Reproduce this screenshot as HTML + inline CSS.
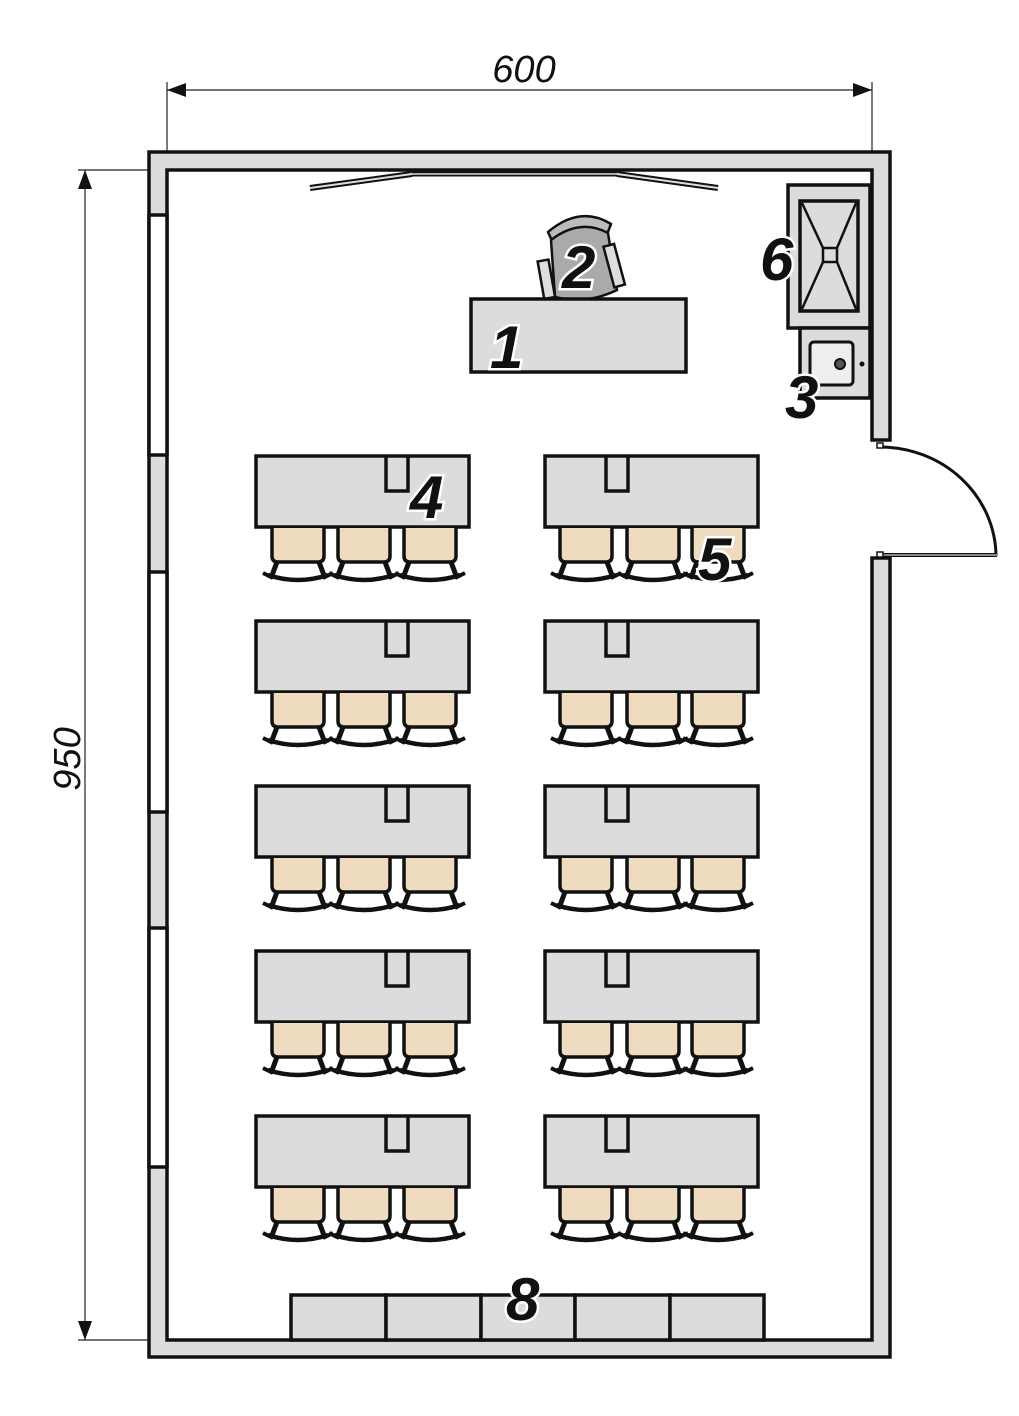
<!DOCTYPE html>
<html><head><meta charset="utf-8"><style>
html,body{margin:0;padding:0;background:#fff;}
svg{display:block;}
.n{font-family:"Liberation Sans",sans-serif;font-weight:bold;font-style:italic;font-size:60px;fill:#111;stroke:#fff;stroke-width:5;paint-order:stroke;}
.d{font-family:"Liberation Sans",sans-serif;font-style:italic;font-size:38px;fill:#111;}
</style></head><body>
<svg width="1019" height="1416" viewBox="0 0 1019 1416" xmlns="http://www.w3.org/2000/svg">
<defs>
<g id="ch">
<path d="M1,0 V28 Q1,34 7,34 H47 Q53,34 53,28 V0" fill="#efdcc0" stroke="#111" stroke-width="3.5"/>
<path d="M6,34 L0,50 M48,34 L54,50" stroke="#111" stroke-width="5" fill="none"/>
<path d="M-3,47 Q27,57 57,47" stroke="#111" stroke-width="4.5" fill="none"/>
<path d="M-8,45 L2,50 M52,50 L62,45" stroke="#111" stroke-width="4" fill="none"/>
</g>
<g id="rowL">
<use href="#ch" x="271" y="0"/><use href="#ch" x="337" y="0"/><use href="#ch" x="403" y="0"/>
</g>
<g id="rowR">
<use href="#ch" x="559" y="0"/><use href="#ch" x="626" y="0"/><use href="#ch" x="691" y="0"/>
</g>
<g id="desks">
<rect x="256" y="0" width="213" height="71" fill="#dcdcdc" stroke="#111" stroke-width="3.5"/>
<path d="M386,0 V35 H408 V0" fill="none" stroke="#111" stroke-width="3.5"/>
<rect x="545" y="0" width="213" height="71" fill="#dcdcdc" stroke="#111" stroke-width="3.5"/>
<path d="M606,0 V35 H628 V0" fill="none" stroke="#111" stroke-width="3.5"/>
<use href="#rowL" y="72"/><use href="#rowR" y="72"/>
</g>
</defs>

<g stroke="#222" stroke-width="1.2">
<line x1="167" y1="90" x2="872" y2="90"/>
<line x1="167" y1="82" x2="167" y2="170"/>
<line x1="872" y1="82" x2="872" y2="170"/>
<line x1="85" y1="170" x2="85" y2="1340"/>
<line x1="78" y1="170" x2="167" y2="170"/>
<line x1="78" y1="1340" x2="167" y2="1340"/>
</g>
<polygon points="167,90 186,83 186,97" fill="#111"/>
<polygon points="872,90 853,83 853,97" fill="#111"/>
<polygon points="85,170 78,189 92,189" fill="#111"/>
<polygon points="85,1340 78,1321 92,1321" fill="#111"/>
<text class="d" x="524" y="82" text-anchor="middle">600</text>
<text class="d" x="0" y="0" text-anchor="middle" transform="translate(80,759) rotate(-90)">950</text>

<path d="M149,152 H890 V440 H872 V170 H167 V1340 H872 V558 H890 V1357 H149 Z" fill="#dcdcdc" stroke="#111" stroke-width="3.5"/>
<g fill="#fff" stroke="#111" stroke-width="3.5">
<rect x="149" y="215" width="18" height="240"/>
<rect x="149" y="572" width="18" height="240"/>
<rect x="149" y="928" width="18" height="239"/>
</g>
<path d="M880,447 A116,110 0 0 1 996,556" fill="none" stroke="#111" stroke-width="3"/>
<line x1="880" y1="555" x2="997" y2="555" stroke="#111" stroke-width="4"/>
<line x1="880" y1="555" x2="997" y2="555" stroke="#fff" stroke-width="1"/>
<rect x="877" y="443" width="6" height="5" fill="#fff" stroke="#111" stroke-width="1.5"/>
<rect x="877" y="552" width="6" height="5" fill="#fff" stroke="#111" stroke-width="1.5"/>

<path d="M412,174 H617" stroke="#111" stroke-width="5"/>
<path d="M412,174 H617" stroke="#ddd" stroke-width="1.5"/>
<path d="M310,188 L412,174 M617,174 L718,188" stroke="#111" stroke-width="6"/>
<path d="M310,188 L412,174 M617,174 L718,188" stroke="#ddd" stroke-width="2"/>

<rect x="788" y="185" width="82" height="143" fill="#dcdcdc" stroke="#111" stroke-width="3.5"/>
<rect x="800" y="201" width="58" height="110" fill="#dcdcdc" stroke="#111" stroke-width="3.5"/>
<rect x="823" y="248" width="14" height="14" fill="#dcdcdc" stroke="#111" stroke-width="2.5"/>
<path d="M802,203 L823,248 M856,203 L837,248 M802,309 L823,262 M856,309 L837,262" stroke="#111" stroke-width="2.5"/>
<rect x="800" y="328" width="70" height="70" fill="#dcdcdc" stroke="#111" stroke-width="3.5"/>
<rect x="810" y="342" width="43" height="43" rx="4" fill="#eee" stroke="#111" stroke-width="3"/>
<circle cx="840" cy="364" r="5" fill="#555" stroke="#111" stroke-width="2"/>
<circle cx="862" cy="364" r="2.5" fill="#111"/>

<g stroke="#111" stroke-width="2.5">
<path d="M548,232 Q580,205 611,224 L606,237 Q580,221 553,243 Z" fill="#bbb"/>
<path d="M551,240 Q580,218 608,233 L617,290 Q586,305 555,297 Z" fill="#aaa"/>
<rect x="541" y="260" width="11" height="38" fill="#ddd" transform="rotate(-10 548 280)"/>
<rect x="609" y="245" width="11" height="42" fill="#ddd" transform="rotate(-15 613 267)"/>
</g>
<rect x="471" y="299" width="215" height="73" fill="#dcdcdc" stroke="#111" stroke-width="3.5"/>

<use href="#desks" y="456"/>
<use href="#desks" y="621"/>
<use href="#desks" y="786"/>
<use href="#desks" y="951"/>
<use href="#desks" y="1116"/>

<g fill="#dcdcdc" stroke="#111" stroke-width="3.5">
<rect x="291" y="1295" width="95" height="45"/>
<rect x="386" y="1295" width="95" height="45"/>
<rect x="481" y="1295" width="94" height="45"/>
<rect x="575" y="1295" width="95" height="45"/>
<rect x="670" y="1295" width="94" height="45"/>
</g>

<text class="n" x="490" y="368">1</text>
<text class="n" x="562" y="288">2</text>
<text class="n" x="785" y="418">3</text>
<text class="n" x="410" y="518">4</text>
<text class="n" x="698" y="580">5</text>
<text class="n" x="760" y="280">6</text>
<text class="n" x="506" y="1320">8</text>
</svg>
</body></html>
